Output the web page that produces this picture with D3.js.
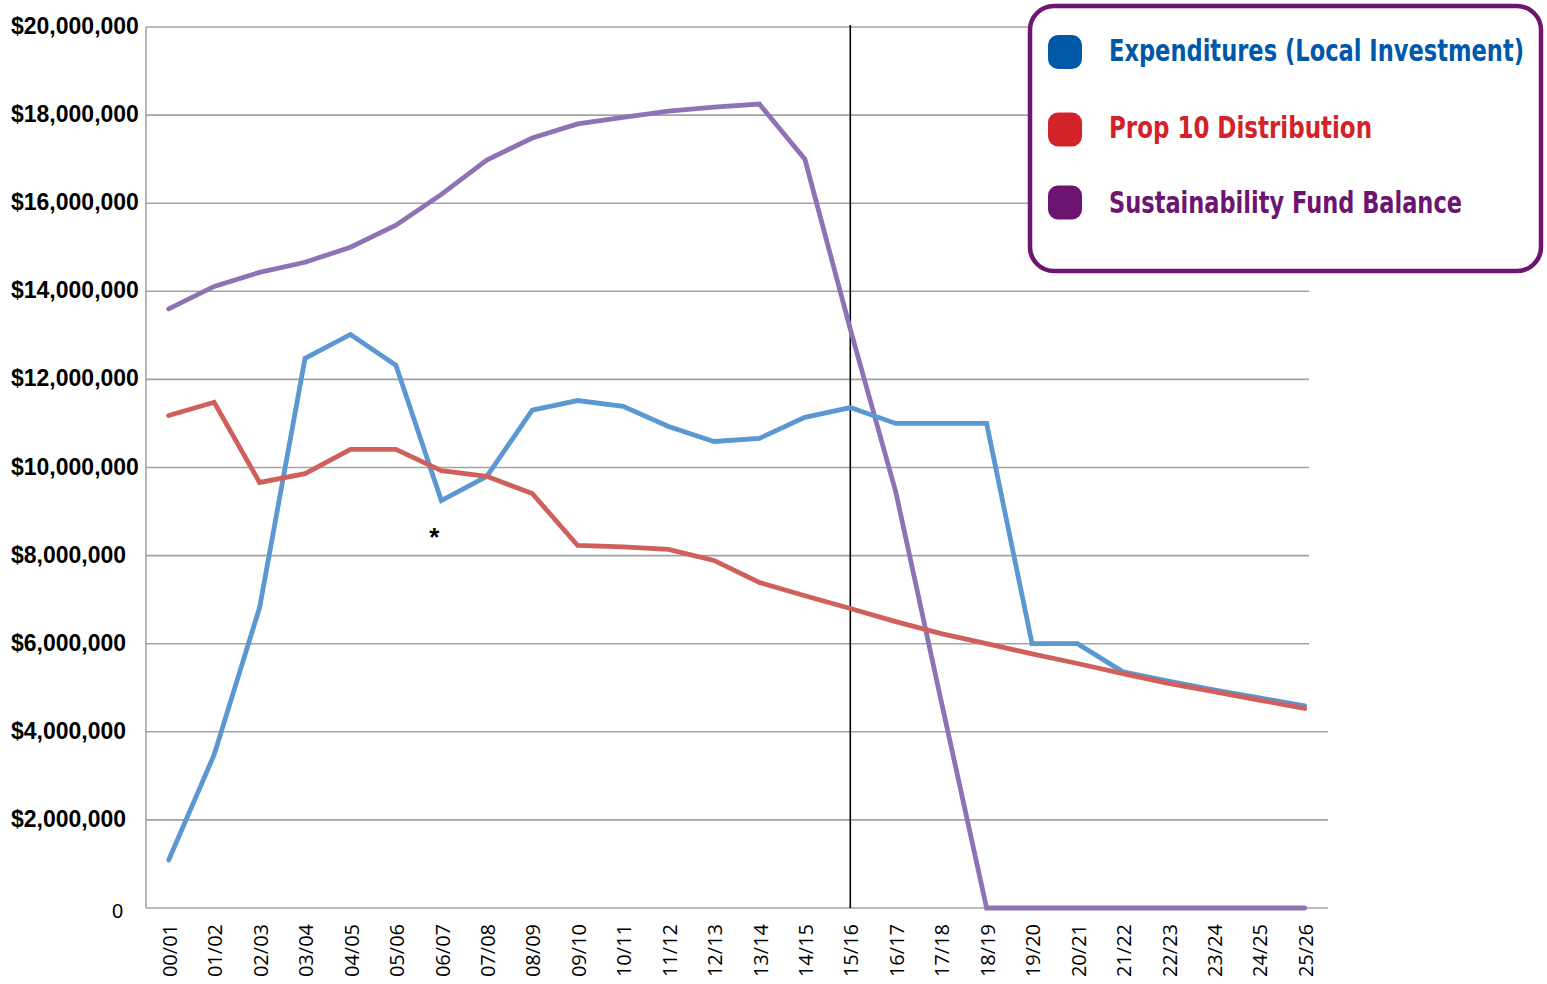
<!DOCTYPE html>
<html>
<head>
<meta charset="utf-8">
<script src="https://cdn.jsdelivr.net/npm/d3@7/dist/d3.min.js"></script>
<style>
  html, body { margin: 0; padding: 0; background: #fff; }
  svg { display: block; }
</style>
</head>
<body>
<svg id="chart" width="1547" height="984"></svg>
<script>
// ---------- DATA ----------
const categories = ["00/01","01/02","02/03","03/04","04/05","05/06","06/07","07/08","08/09","09/10",
  "10/11","11/12","12/13","13/14","14/15","15/16","16/17","17/18","18/19","19/20",
  "20/21","21/22","22/23","23/24","24/25","25/26"];

const expenditures = [1.09e6, 3.48e6, 6.82e6, 12.48e6, 13.02e6, 12.32e6, 9.25e6, 9.8e6, 11.3e6, 11.52e6,
  11.39e6, 10.93e6, 10.59e6, 10.66e6, 11.14e6, 11.36e6, 11.0e6, 11.0e6, 11.0e6, 6.0e6,
  6.0e6, 5.36e6, 5.15e6, 4.95e6, 4.77e6, 4.59e6];

const prop10 = [11.18e6, 11.48e6, 9.66e6, 9.86e6, 10.41e6, 10.41e6, 9.93e6, 9.8e6, 9.41e6, 8.23e6,
  8.2e6, 8.14e6, 7.89e6, 7.39e6, 7.09e6, 6.8e6, 6.5e6, 6.23e6, 6.0e6, 5.77e6,
  5.55e6, 5.32e6, 5.1e6, 4.91e6, 4.72e6, 4.53e6];

const sustainability = [13.6e6, 14.11e6, 14.43e6, 14.66e6, 15.0e6, 15.5e6, 16.2e6, 16.98e6, 17.48e6, 17.8e6,
  17.95e6, 18.09e6, 18.18e6, 18.25e6, 17.0e6, 13.14e6, 9.45e6, 4.7e6, 0, 0,
  0, 0, 0, 0, 0, 0];

const yTicks = [0, 2e6, 4e6, 6e6, 8e6, 10e6, 12e6, 14e6, 16e6, 18e6, 20e6];

const legendLabels = ["Expenditures (Local Investment)", "Prop 10 Distribution", "Sustainability Fund Balance"];
const markerCategory = "15/16";
const asteriskCategory = "06/07";
const asteriskValue = 8.45e6;

// ---------- SCALES ----------
const svg = d3.select("#chart");
const x = d3.scaleBand().domain(categories).range([146, 1327.4]).paddingInner(0).paddingOuter(0);
const y = d3.scaleLinear().domain([0, 20e6]).range([908, 27]);
const cx = c => x(c) + x.bandwidth() / 2;

// ---------- GRID ----------
const grid = svg.append("g");
grid.selectAll("line").data(yTicks.filter(v => v > 0)).enter().append("line")
  .attr("x1", 146)
  .attr("x2", v => v <= 4e6 ? 1328 : 1309)
  .attr("y1", v => y(v)).attr("y2", v => y(v))
  .attr("stroke", "#a3a3a3").attr("stroke-width", 1.6);

// axis lines
svg.append("line").attr("x1", 146).attr("x2", 146).attr("y1", y(20e6)).attr("y2", y(0))
  .attr("stroke", "#a3a3a3").attr("stroke-width", 1.6);
svg.append("line").attr("x1", 146).attr("x2", 1328).attr("y1", y(0)).attr("y2", y(0))
  .attr("stroke", "#a3a3a3").attr("stroke-width", 1.6);

// ---------- Y LABELS ----------
const fmt = d3.format(",");
svg.append("g").selectAll("text").data(yTicks).enter().append("text")
  .attr("x", v => v === 0 ? 123 : 11)
  .attr("y", v => v === 0 ? 918 : y(v) + 7)
  .attr("text-anchor", v => v === 0 ? "end" : "start")
  .attr("font-family", "Liberation Sans, Arial, sans-serif")
  .attr("font-size", v => v === 0 ? 20 : 23)
  .attr("font-weight", v => v === 0 ? "normal" : "bold")
  .attr("fill", "#000")
  .text(v => v === 0 ? "0" : "$" + fmt(v));

// ---------- X LABELS ----------
svg.append("g").selectAll("text").data(categories).enter().append("text")
  .attr("transform", c => `translate(${cx(c) + 1},924) rotate(-90)`)
  .attr("text-anchor", "end")
  .attr("dy", "0.36em")
  .attr("font-family", "Open Sans, sans-serif")
  .attr("font-size", 20)
  .attr("fill", "#000")
  .text(c => c);

// ---------- VERTICAL MARKER ----------
svg.append("line")
  .attr("x1", cx(markerCategory)).attr("x2", cx(markerCategory))
  .attr("y1", 25).attr("y2", y(0))
  .attr("stroke", "#000").attr("stroke-width", 1.6);

// ---------- LINES ----------
const lineGen = d3.line().x((d, i) => cx(categories[i])).y(d => y(d));
const series = [
  { values: sustainability, color: "#8e73b4" },
  { values: prop10, color: "#cf605c" },
  { values: expenditures, color: "#5b97d0" }
];
const order = [series[0], series[2], series[1]];
svg.append("g").selectAll("path").data(order).enter().append("path")
  .attr("d", s => lineGen(s.values))
  .attr("fill", "none")
  .attr("stroke", s => s.color)
  .attr("stroke-width", 4.8)
  .attr("stroke-linejoin", "miter")
  .attr("stroke-linecap", "round");

// asterisk
svg.append("text")
  .attr("x", cx(asteriskCategory) - 7).attr("y", y(asteriskValue) + 10)
  .attr("text-anchor", "middle")
  .attr("font-family", "Liberation Sans, Arial, sans-serif")
  .attr("font-weight", "bold")
  .attr("font-size", 26)
  .text("*");

// ---------- LEGEND ----------
const legend = svg.append("g");
legend.append("rect")
  .attr("x", 1030).attr("y", 6).attr("width", 511).attr("height", 265)
  .attr("rx", 24).attr("ry", 24)
  .attr("fill", "#fff").attr("stroke", "#6c1670").attr("stroke-width", 4.5);

const legendColors = ["#0059a8", "#d2232a", "#6c1470"];
const legendY = [52, 129.5, 202.5];
const legendBase = [61, 137.5, 213];
const legendWidths = [415, 263, 353];
legendLabels.forEach((lab, i) => {
  legend.append("rect")
    .attr("x", 1048).attr("y", legendY[i] - 17).attr("width", 34).attr("height", 34)
    .attr("rx", 10).attr("ry", 10)
    .attr("fill", legendColors[i]);
  legend.append("g")
    .attr("transform", `translate(1109,${legendBase[i]}) scale(1,1.18)`)
    .append("text")
    .attr("x", 0).attr("y", 0)
    .attr("font-family", "DejaVu Sans Condensed, DejaVu Sans, sans-serif")
    .attr("font-weight", "bold")
    .attr("font-size", 25)
    .attr("fill", legendColors[i])
    .attr("textLength", legendWidths[i])
    .attr("lengthAdjust", "spacingAndGlyphs")
    .text(lab);
});
</script>
</body>
</html>
